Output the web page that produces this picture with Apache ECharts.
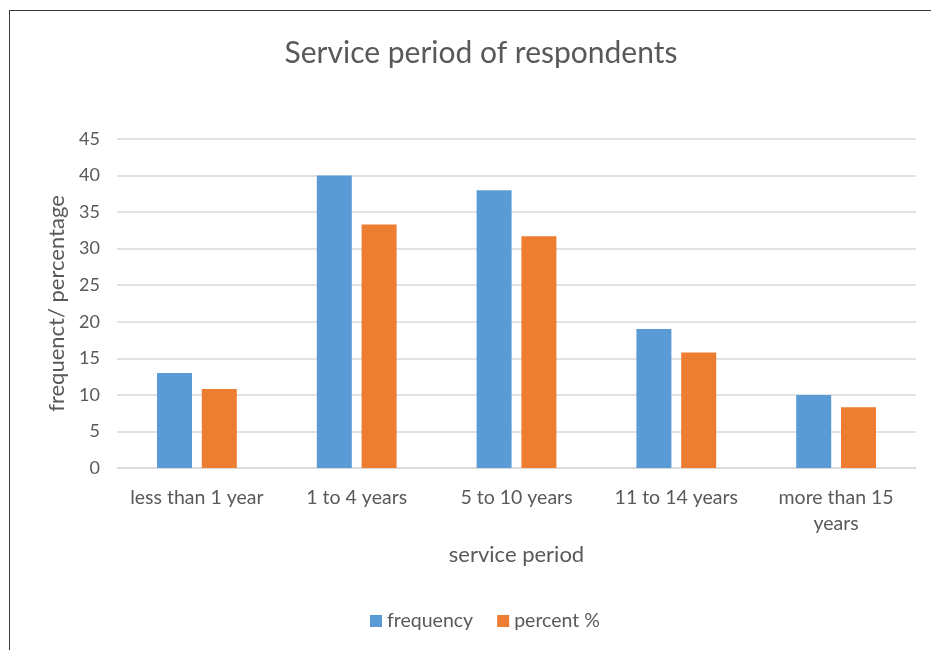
<!DOCTYPE html>
<html>
<head>
<meta charset="utf-8">
<script src="https://cdn.jsdelivr.net/npm/echarts@6/dist/echarts.min.js"></script>
<style>
  html, body { margin: 0; padding: 0; background: #fff; }
  #frame { position: absolute; left: 9px; top: 10px; width: 940px; height: 660px; border-left: 1.5px solid #3a3a3a; border-top: 1.5px solid #3a3a3a; }
  #chart { position: absolute; left: 0; top: 0; width: 931px; height: 650px; }
</style>
</head>
<body>
<div id="frame"></div>
<div id="chart"></div>
<script>
// 服务年限分类
const categories = ['less than 1 year', '1 to 4 years', '5 to 10 years', '11 to 14 years', 'more than 15\nyears']
// 人数
const frequency = [13, 40, 38, 19, 10]
// 百分比
const percent = [10.8, 33.3, 31.7, 15.8, 8.3]

const font = 'Lato, "Open Sans", sans-serif'
const myChart = echarts.init(document.getElementById('chart'))
const option = {
  backgroundColor: 'transparent',
  textStyle: { fontFamily: font },
  title: {
    text: 'Service period of respondents',
    left: 476,
    textAlign: 'center',
    top: 33,
    textStyle: { fontSize: 30, fontWeight: 'normal', color: '#595959', fontFamily: font }
  },
  legend: {
    bottom: 14,
    left: 365,
    itemWidth: 12,
    itemHeight: 12,
    itemGap: 24,
    icon: 'rect',
    textStyle: { fontSize: 19.5, color: '#595959', fontFamily: font },
    data: ['frequency', 'percent %']
  },
  grid: { left: 117, right: 15, top: 139, bottom: 182 },
  xAxis: {
    type: 'category',
    data: categories,
    name: 'service period',
    nameLocation: 'middle',
    nameGap: 76,
    nameTextStyle: { fontSize: 22, color: '#595959' },
    axisLine: { lineStyle: { color: '#d9d9d9', width: 1.5 } },
    axisTick: { show: false },
    axisLabel: { interval: 0, hideOverlap: false, fontSize: 19.5, color: '#595959', margin: 17, lineHeight: 26 }
  },
  yAxis: {
    type: 'value',
    min: 0,
    max: 45,
    interval: 5,
    name: 'frequenct/ percentage',
    nameLocation: 'middle',
    nameGap: 49,
    nameTextStyle: { fontSize: 22, color: '#595959' },
    axisLine: { show: false },
    axisTick: { show: false },
    axisLabel: { fontSize: 18, color: '#595959', margin: 17 },
    splitLine: { lineStyle: { color: '#d9d9d9', width: 1.5 } }
  },
  series: [
    {
      name: 'frequency',
      type: 'bar',
      data: frequency,
      barWidth: 35,
      barGap: '28%',
      itemStyle: { color: '#5b9bd5' }
    },
    {
      name: 'percent %',
      type: 'bar',
      data: percent,
      barWidth: 35,
      itemStyle: { color: '#ed7d31' }
    }
  ]
}
myChart.setOption(option)
</script>
</body>
</html>
